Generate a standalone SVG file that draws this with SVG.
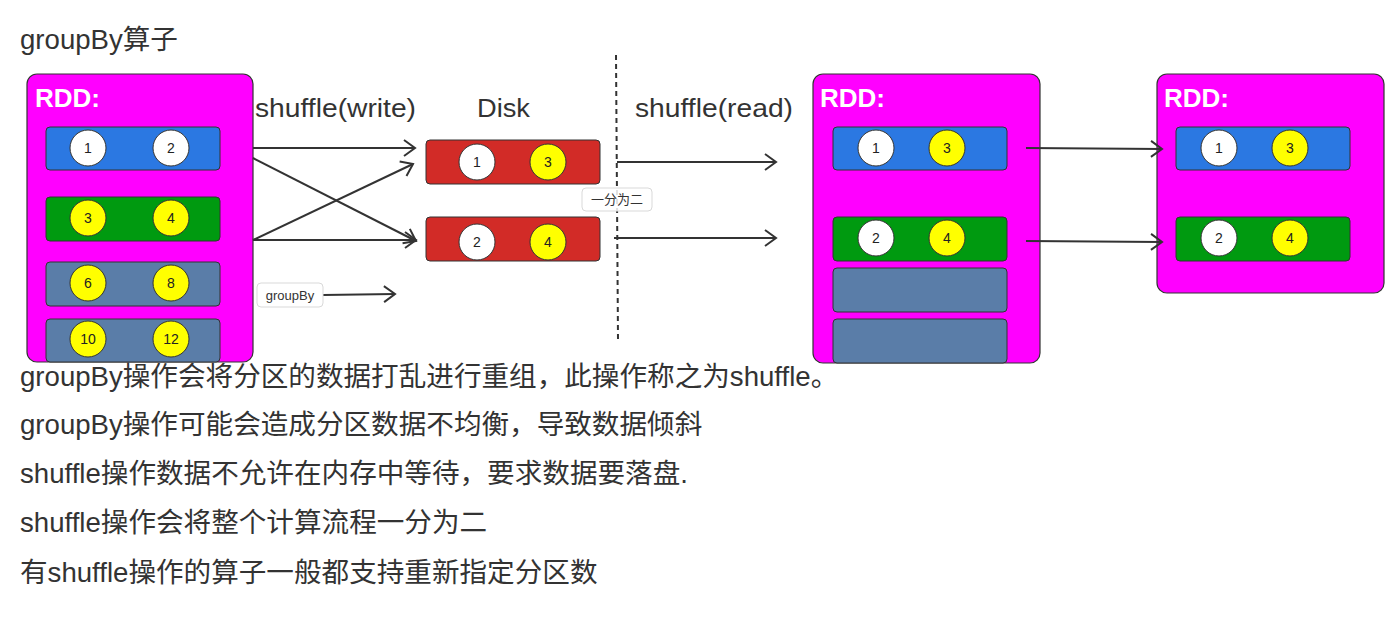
<svg xmlns="http://www.w3.org/2000/svg" width="1400" height="630" viewBox="0 0 1400 630">
  <style>
    .txt { font-family: "Liberation Sans", "Noto Sans CJK SC", sans-serif; fill: #333333; }
    .big { font-size: 27.6px; }
    .head { font-size: 25px; }
    .rddlabel { font-family: "Liberation Sans", sans-serif; font-size: 26px; font-weight: bold; fill: #ffffff; }
    .rdd { fill: #ff00ff; stroke: #333333; stroke-width: 1.2; }
    .blue { fill: #2b78e2; stroke: #333333; stroke-width: 1; }
    .green { fill: #009a10; stroke: #333333; stroke-width: 1; }
    .grey { fill: #5a7da8; stroke: #333333; stroke-width: 1; }
    .red { fill: #d22b27; stroke: #333333; stroke-width: 1; }
    .cw { fill: #ffffff; stroke: #333333; stroke-width: 1; }
    .cy { fill: #ffff00; stroke: #333333; stroke-width: 1; }
    .num { font-family: "Liberation Sans", sans-serif; font-size: 14px; fill: #222222; text-anchor: middle; dominant-baseline: central; }
    .conn { stroke: #333333; stroke-width: 2; fill: none; marker-end: url(#arrow); }
    .tag { fill: #ffffff; fill-opacity: 0.85; stroke: #d9d9d9; stroke-width: 1; }
    .tagtxt { font-family: "Liberation Sans", "Noto Sans CJK SC", sans-serif; font-size: 13px; fill: #333333; text-anchor: middle; dominant-baseline: central; }
  </style>
  <defs>
    <marker id="arrow" markerUnits="userSpaceOnUse" viewBox="-13 -10 15 20" refX="0" refY="0" markerWidth="15" markerHeight="20" orient="auto">
      <path d="M-11,-8 L0,0 L-11,8" fill="none" stroke="#333333" stroke-width="2" stroke-linejoin="miter"/>
    </marker>
  </defs>
  <rect width="1400" height="630" fill="#ffffff"/>

  <!-- Title -->
  <text class="txt big" x="20" y="49">groupBy算子</text>

  <!-- Left RDD -->
  <g id="rdd1">
    <rect class="rdd" x="27" y="74" width="226" height="288" rx="10"/>
    <text class="rddlabel" x="35" y="107">RDD:</text>
    <rect class="blue" x="46" y="127" width="174" height="43" rx="4"/>
    <circle class="cw" cx="88" cy="148" r="18"/><text class="num" x="88" y="148">1</text>
    <circle class="cw" cx="171" cy="148" r="18"/><text class="num" x="171" y="148">2</text>
    <rect class="green" x="46" y="197" width="174" height="44" rx="4"/>
    <circle class="cy" cx="88" cy="218" r="18"/><text class="num" x="88" y="218">3</text>
    <circle class="cy" cx="171" cy="218" r="18"/><text class="num" x="171" y="218">4</text>
    <rect class="grey" x="46" y="262" width="174" height="44" rx="4"/>
    <circle class="cy" cx="88" cy="283" r="18"/><text class="num" x="88" y="283">6</text>
    <circle class="cy" cx="171" cy="283" r="18"/><text class="num" x="171" y="283">8</text>
    <rect class="grey" x="46" y="319" width="174" height="43" rx="4"/>
    <circle class="cy" cx="88" cy="339" r="18"/><text class="num" x="88" y="339">10</text>
    <circle class="cy" cx="171" cy="339" r="18"/><text class="num" x="171" y="339">12</text>
  </g>

  <!-- Disk -->
  <g id="disk">
    <text class="txt head" x="477" y="117" textLength="53" lengthAdjust="spacingAndGlyphs">Disk</text>
    <rect class="red" x="426" y="140" width="174" height="44" rx="4"/>
    <circle class="cw" cx="477" cy="162" r="18"/><text class="num" x="477" y="162">1</text>
    <circle class="cy" cx="548" cy="162" r="18"/><text class="num" x="548" y="162">3</text>
    <rect class="red" x="426" y="217" width="174" height="44" rx="4"/>
    <circle class="cw" cx="477" cy="242" r="18"/><text class="num" x="477" y="242">2</text>
    <circle class="cy" cx="548" cy="242" r="18"/><text class="num" x="548" y="242">4</text>
  </g>

  <!-- Middle RDD -->
  <g id="rdd2">
    <rect class="rdd" x="813" y="74" width="227" height="289" rx="10"/>
    <text class="rddlabel" x="820" y="107">RDD:</text>
    <rect class="blue" x="833" y="127" width="174" height="43" rx="4"/>
    <circle class="cw" cx="876" cy="148" r="18"/><text class="num" x="876" y="148">1</text>
    <circle class="cy" cx="947" cy="148" r="18"/><text class="num" x="947" y="148">3</text>
    <rect class="green" x="833" y="217" width="174" height="44" rx="4"/>
    <circle class="cw" cx="876" cy="238" r="18"/><text class="num" x="876" y="238">2</text>
    <circle class="cy" cx="947" cy="238" r="18"/><text class="num" x="947" y="238">4</text>
    <rect class="grey" x="833" y="268" width="174" height="44" rx="4"/>
    <rect class="grey" x="833" y="319" width="174" height="44" rx="4"/>
  </g>

  <!-- Right RDD -->
  <g id="rdd3">
    <rect class="rdd" x="1157" y="74" width="227" height="219" rx="10"/>
    <text class="rddlabel" x="1164" y="107">RDD:</text>
    <rect class="blue" x="1176" y="127" width="174" height="43" rx="4"/>
    <circle class="cw" cx="1219" cy="148" r="18"/><text class="num" x="1219" y="148">1</text>
    <circle class="cy" cx="1290" cy="148" r="18"/><text class="num" x="1290" y="148">3</text>
    <rect class="green" x="1176" y="217" width="174" height="44" rx="4"/>
    <circle class="cw" cx="1219" cy="238" r="18"/><text class="num" x="1219" y="238">2</text>
    <circle class="cy" cx="1290" cy="238" r="18"/><text class="num" x="1290" y="238">4</text>
  </g>

  <!-- Connectors -->
  <g id="connectors">
    <line class="conn" x1="253" y1="148" x2="415" y2="148"/>
    <line class="conn" x1="253" y1="158" x2="416" y2="241"/>
    <line class="conn" x1="253" y1="240" x2="413" y2="164"/>
    <line class="conn" x1="253" y1="240" x2="416" y2="240"/>
    <line class="conn" x1="323" y1="295" x2="395" y2="294"/>
    <line class="conn" x1="617" y1="162" x2="776" y2="162"/>
    <line class="conn" x1="614" y1="238" x2="776" y2="238"/>
    <line class="conn" x1="1026" y1="148" x2="1162" y2="149"/>
    <line class="conn" x1="1026" y1="241" x2="1162" y2="242"/>
    <line x1="616" y1="55" x2="618" y2="340" stroke="#333333" stroke-width="2" stroke-dasharray="5,4"/>
  </g>

  <!-- Connector labels -->
  <g id="label-shuffle-write">
    <text class="txt head" x="255" y="117" textLength="161" lengthAdjust="spacingAndGlyphs">shuffle(write)</text>
  </g>
  <g id="label-shuffle-read">
    <text class="txt head" x="635" y="117" textLength="158" lengthAdjust="spacingAndGlyphs">shuffle(read)</text>
  </g>
  <g id="label-groupBy">
    <rect class="tag" x="257" y="283" width="66" height="24" rx="4"/>
    <text class="tagtxt" x="290" y="295">groupBy</text>
  </g>
  <g id="label-split">
    <rect class="tag" x="582" y="188" width="70" height="23" rx="4"/>
    <text class="tagtxt" x="617" y="199.5">一分为二</text>
  </g>

  <!-- Notes -->
  <g id="notes">
    <text class="txt big" x="20" y="386">groupBy操作会将分区的数据打乱进行重组，此操作称之为shuffle。</text>
    <text class="txt big" x="20" y="434">groupBy操作可能会造成分区数据不均衡，导致数据倾斜</text>
    <text class="txt big" x="20" y="483">shuffle操作数据不允许在内存中等待，要求数据要落盘.</text>
    <text class="txt big" x="20" y="532">shuffle操作会将整个计算流程一分为二</text>
    <text class="txt big" x="20" y="582">有shuffle操作的算子一般都支持重新指定分区数</text>
  </g>
</svg>
